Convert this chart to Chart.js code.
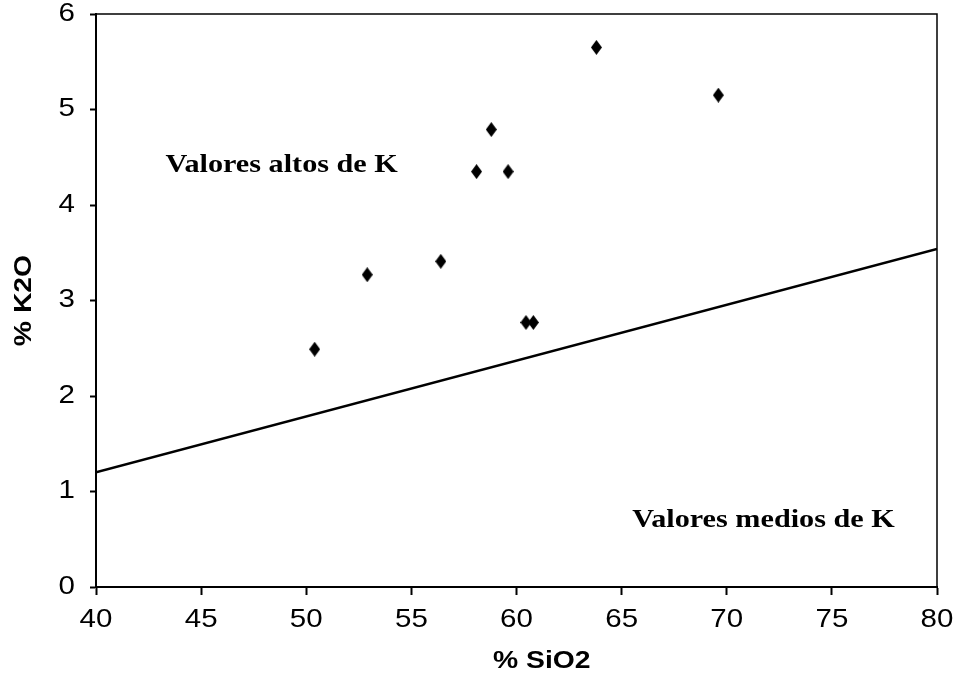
<!DOCTYPE html>
<html>
<head>
<meta charset="utf-8">
<script src="https://cdn.jsdelivr.net/npm/chart.js@4.4.1/dist/chart.umd.min.js"></script>
<style>
  html, body { margin: 0; padding: 0; background: #fff; }
  canvas { display: block; }
</style>
</head>
<body>
<canvas id="chart" width="964" height="675"></canvas>
<script>
// Sample compositions, wt %
const sio2 = [50.4, 52.9, 56.4, 58.1, 58.8, 59.6, 60.45, 60.8, 63.8, 69.6];
const k2o  = [2.49, 3.27, 3.41, 4.35, 4.79, 4.35, 2.77, 2.77, 5.65, 5.15];

// Dividing line between the high-K and medium-K fields
const boundarySiO2 = [40, 80];
const boundaryK2O  = [1.2, 3.54];

// Axis ticks
const sio2Ticks = [40, 45, 50, 55, 60, 65, 70, 75, 80];
const k2oTicks  = [0, 1, 2, 3, 4, 5, 6];

// Text
const fieldLabels = ['Valores altos de K', 'Valores medios de K'];
const xTitle = '% SiO2';
const yTitle = '% K2O';

// The figure's lettering is set in an expanded face: widen glyphs along their baseline.
const TEXT_EXPAND = 1.18;
const canvas = document.getElementById('chart');
const context = canvas.getContext('2d');
context.fillText = function (text, x, y) {
  this.save();
  this.translate(x, y);
  this.scale(TEXT_EXPAND, 1);
  CanvasRenderingContext2D.prototype.fillText.call(this, text, 0, 0);
  this.restore();
};

// Solid diamond marker, a little taller than wide
function diamondMarker(w, h) {
  const c = document.createElement('canvas');
  c.width = w; c.height = h;
  const g = c.getContext('2d');
  g.fillStyle = '#000';
  g.beginPath();
  g.moveTo(w / 2, 0);
  g.lineTo(w, h / 2);
  g.lineTo(w / 2, h);
  g.lineTo(0, h / 2);
  g.closePath();
  g.fill();
  return c;
}

// Closed frame: top and right edges of the plot box
const plotFrame = {
  id: 'plotFrame',
  afterDraw(chart) {
    const { ctx, chartArea: { left, right, top, bottom } } = chart;
    ctx.save();
    ctx.strokeStyle = '#000';
    ctx.lineWidth = 1.5;
    ctx.beginPath();
    ctx.moveTo(left, top);
    ctx.lineTo(right, top);
    ctx.lineTo(right, bottom);
    ctx.stroke();
    ctx.restore();
  }
};

// Field names and the SiO2 axis title
const fieldText = {
  id: 'fieldText',
  afterDatasetsDraw(chart, args, opts) {
    const { ctx, scales: { x, y } } = chart;
    ctx.save();
    ctx.fillStyle = '#000';
    ctx.textBaseline = 'alphabetic';
    ctx.textAlign = 'left';
    ctx.font = 'bold 25.6px "Liberation Serif"';
    opts.anchors.forEach((a, i) => {
      ctx.fillText(fieldLabels[i], x.getPixelForValue(a.x), y.getPixelForValue(a.y));
    });
    ctx.textAlign = 'center';
    ctx.font = 'bold 24px "Liberation Sans"';
    ctx.fillText(xTitle, x.getPixelForValue(opts.xTitleAt), chart.height - opts.xTitleLift);
    ctx.restore();
  }
};

const tickFont = { family: '"Liberation Sans"', size: 25 };

new Chart(context, {
  type: 'scatter',
  data: {
    datasets: [
      {
        label: 'Muestras',
        data: sio2.map((v, i) => ({ x: v, y: k2o[i] })),
        pointStyle: diamondMarker(11, 15),
        pointRadius: 6,
        backgroundColor: '#000',
        borderColor: '#000'
      },
      {
        type: 'line',
        label: 'Límite',
        data: boundarySiO2.map((v, i) => ({ x: v, y: boundaryK2O[i] })),
        borderColor: '#000',
        borderWidth: 2.5,
        pointRadius: 0,
        fill: false
      }
    ]
  },
  options: {
    responsive: false,
    animation: false,
    layout: { padding: { top: 14, right: 27, bottom: 0, left: 0 } },
    plugins: {
      legend: { display: false },
      tooltip: { enabled: false },
      fieldText: {
        anchors: [{ x: 43.3, y: 4.35 }, { x: 65.5, y: 0.63 }],
        xTitleAt: 61.2,
        xTitleLift: 7
      }
    },
    scales: {
      x: {
        type: 'linear',
        min: 40,
        max: 80,
        afterBuildTicks: s => { s.ticks = sio2Ticks.map(v => ({ value: v })); },
        afterFit: s => { s.height = 88; s.paddingLeft = 0; s.paddingRight = 0; },
        grid: { drawOnChartArea: false, drawTicks: true, tickLength: 8, tickColor: '#000', tickWidth: 2 },
        border: { display: true, color: '#000', width: 2 },
        ticks: { color: '#000', font: tickFont, padding: 10, maxRotation: 0, autoSkip: false }
      },
      y: {
        type: 'linear',
        min: 0,
        max: 6,
        afterBuildTicks: s => { s.ticks = k2oTicks.map(v => ({ value: v })); },
        afterFit: s => { s.width = 96; s.paddingTop = 0; s.paddingBottom = 0; },
        grid: { drawOnChartArea: false, drawTicks: true, tickLength: 6, tickColor: '#000', tickWidth: 2 },
        border: { display: true, color: '#000', width: 2 },
        ticks: { color: '#000', font: tickFont, padding: 15, autoSkip: false },
        title: {
          display: true,
          text: yTitle,
          color: '#000',
          font: { family: '"Liberation Sans"', size: 24, weight: 'bold' },
          padding: { top: 10, bottom: 0 }
        }
      }
    }
  },
  plugins: [plotFrame, fieldText]
});
</script>
</body>
</html>
